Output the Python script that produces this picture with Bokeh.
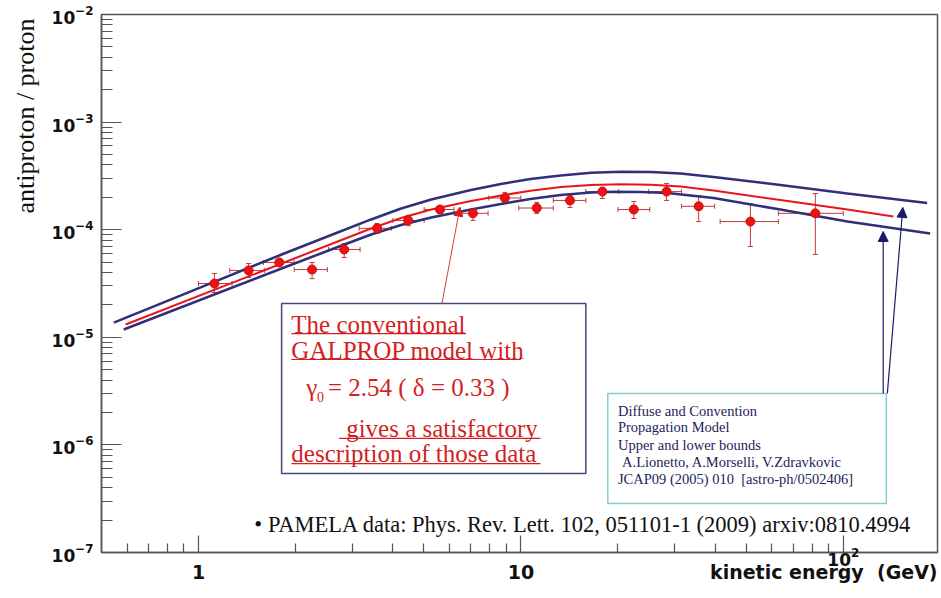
from bokeh.plotting import figure
from bokeh.models import (ColumnDataSource, FixedTicker, BoxAnnotation, Arrow, NormalHead,
                          Whisker, TeeHead, Range1d, LogAxis, Title)
from bokeh.core.properties import value
from bokeh.embed import file_html
from bokeh.resources import INLINE

# ---- PAMELA antiproton / proton flux ratio ----
energy = [1.12, 1.43, 1.78, 2.25, 2.83, 3.58, 4.47, 5.61, 7.10, 8.92,
          11.2, 14.2, 17.9, 22.4, 28.3, 35.6, 51.5, 81.9]
ratio = [3.16e-5, 4.18e-5, 4.96e-5, 4.26e-5, 6.55e-5, 1.03e-4, 1.22e-4, 1.54e-4, 1.42e-4, 1.97e-4,
         1.59e-4, 1.87e-4, 2.26e-4, 1.54e-4, 2.26e-4, 1.65e-4, 1.19e-4, 1.42e-4]
ratio_hi = [3.92e-5, 4.85e-5, 5.28e-5, 4.96e-5, 7.45e-5, 1.14e-4, 1.36e-4, 1.64e-4, 1.57e-4, 2.22e-4,
            1.79e-4, 2.08e-4, 2.47e-4, 1.83e-4, 2.69e-4, 2.08e-4, 1.75e-4, 2.17e-4]
ratio_lo = [2.61e-5, 3.60e-5, 4.65e-5, 3.51e-5, 5.52e-5, 9.23e-5, 1.09e-4, 1.42e-4, 1.22e-4, 1.79e-4,
            1.42e-4, 1.61e-4, 1.95e-4, 1.27e-4, 1.87e-4, 1.19e-4, 6.98e-5, 5.89e-5]
bin_lo = [1.00, 1.25, 1.59, 1.98, 2.53, 3.15, 4.01, 5.01, 6.51, 7.95,
          9.85, 12.6, 15.9, 20.0, 24.9, 31.5, 41.5, 62.9]
bin_hi = [1.27, 1.60, 1.98, 2.51, 3.17, 3.96, 5.01, 6.20, 7.91, 10.0,
          12.6, 15.9, 20.1, 25.1, 31.5, 39.9, 62.9, 100.0]

# ---- diffusion + convection propagation model: upper bound, GALPROP conventional, lower bound ----
upper_e = [0.546, 0.886, 1.81, 2.58, 3.43, 4.25, 5.27, 7.00, 8.67, 10.7, 13.3, 16.5, 20.4,
           25.3, 31.3, 39.6, 63.8, 103, 182]
upper_r = [1.37e-5, 2.47e-5, 5.88e-5, 8.93e-5, 1.245e-4, 1.574e-4, 1.91e-4, 2.339e-4, 2.661e-4,
           2.96e-4, 3.19e-4, 3.38e-4, 3.46e-4, 3.44e-4, 3.33e-4, 3.09e-4, 2.60e-4, 2.17e-4, 1.77e-4]
model_e = [0.594, 1.81, 2.58, 3.43, 4.25, 5.27, 7.00, 8.67, 10.7, 13.3, 16.5, 20.4,
           25.3, 31.3, 39.6, 63.8, 103, 143]
model_r = [1.315e-5, 4.85e-5, 7.36e-5, 1.026e-4, 1.284e-4, 1.54e-4, 1.848e-4, 2.079e-4, 2.298e-4,
           2.493e-4, 2.602e-4, 2.642e-4, 2.619e-4, 2.52e-4, 2.313e-4, 1.888e-4, 1.54e-4, 1.327e-4]
lower_e = [0.586, 1.81, 2.58, 3.43, 4.25, 5.27, 7.00, 8.67, 10.7, 13.3, 16.5, 19.4,
           23.5, 28.5, 39.6, 63.8, 103, 186]
lower_r = [1.181e-5, 4.358e-5, 6.55e-5, 9.02e-5, 1.106e-4, 1.298e-4, 1.54e-4, 1.733e-4, 1.929e-4,
           2.101e-4, 2.217e-4, 2.251e-4, 2.241e-4, 2.194e-4, 1.97e-4, 1.54e-4, 1.192e-4, 9.22e-5]

# ---- axis ticks ----
x_major = [1, 10, 100]
x_minor = [0.6, 0.7, 0.8, 0.9] + [k for k in range(2, 10)] + [10 * k for k in range(2, 10)]
y_major = [1e-7, 1e-6, 1e-5, 1e-4, 1e-3, 1e-2]
y_minor = [k * 10.0 ** e for e in range(-7, -2) for k in range(2, 10)]
x_title = "kinetic energy\u00a0 (GeV)"
x_title_at = 87.0          # centre of the x-axis title, in GeV
y_title = "antiproton / proton"

NAVY = "#2f3079"
RED = "#e8161c"
FRAME = "#555555"
INK = "#111111"
SANS = "DejaVu Sans"
SERIF = "Liberation Serif"

p = figure(width=941, height=598, x_axis_type="log", y_axis_type="log",
           x_range=Range1d(0.5, 196), y_range=Range1d(1e-7, 1e-2),
           output_backend="svg", toolbar_location=None,
           min_border_left=100, min_border_right=4, min_border_top=14, min_border_bottom=46)
p.background_fill_color = "white"
p.border_fill_color = "white"
p.grid.visible = False
p.outline_line_color = FRAME
p.outline_line_width = 1.5

# tick marks (inside the frame) and power-of-ten labels
p.xaxis.ticker = FixedTicker(ticks=x_major, minor_ticks=x_minor)
p.yaxis.ticker = FixedTicker(ticks=y_major, minor_ticks=y_minor)
for ax in (p.xaxis[0], p.yaxis[0]):
    ax.major_tick_out = 0
    ax.minor_tick_out = 0
    ax.axis_line_color = FRAME
    ax.axis_line_width = 1.5
    ax.major_tick_line_color = FRAME
    ax.minor_tick_line_color = FRAME
    ax.major_tick_line_width = 1.2
    ax.minor_tick_line_width = 1.2
    ax.major_label_text_font = SANS
    ax.major_label_text_font_style = "bold"
    ax.major_label_text_font_size = "17px"
    ax.major_label_text_color = INK
p.xaxis.major_tick_in = 17
p.xaxis.minor_tick_in = 9
p.yaxis.major_tick_in = 20
p.yaxis.minor_tick_in = 11
p.yaxis.major_label_standoff = 8
p.xaxis.major_label_overrides = {1: "", 10: ""}
p.xaxis.major_label_standoff = -6

# second row under the axis: 1, 10 and the axis title
row2 = LogAxis(ticker=FixedTicker(ticks=[1, 10, x_title_at], minor_ticks=[]),
               major_label_overrides={1: "1", 10: "10", x_title_at: x_title},
               axis_line_color=None, major_tick_line_color=None, minor_tick_line_color=None,
               major_tick_in=0, major_tick_out=0, minor_tick_in=0, minor_tick_out=0,
               major_label_standoff=-8, major_label_text_font=SANS,
               major_label_text_font_style="bold", major_label_text_font_size="19px",
               major_label_text_color=INK)
p.add_layout(row2, "below")

p.add_layout(Title(text=y_title, align="right", text_font=SERIF, text_font_style="normal",
                   text_font_size="26px", text_color=INK, standoff=17, offset=4), "left")

# model curves
p.line(upper_e, upper_r, line_color=NAVY, line_width=2.5)
p.line(lower_e, lower_r, line_color=NAVY, line_width=2.5)
p.line(model_e, model_r, line_color=RED, line_width=2)

# data with error bars
src = ColumnDataSource(dict(e=energy, r=ratio, rhi=ratio_hi, rlo=ratio_lo, elo=bin_lo, ehi=bin_hi))
ERR = "#c23a3a"
p.add_layout(Whisker(source=src, base="e", upper="rhi", lower="rlo", dimension="height",
                     line_color=ERR, line_width=1,
                     upper_head=TeeHead(size=5, line_color=ERR, line_width=1),
                     lower_head=TeeHead(size=5, line_color=ERR, line_width=1)))
p.add_layout(Whisker(source=src, base="r", upper="ehi", lower="elo", dimension="width",
                     line_color=ERR, line_width=1,
                     upper_head=TeeHead(size=5, line_color=ERR, line_width=1),
                     lower_head=TeeHead(size=5, line_color=ERR, line_width=1)))
p.scatter("e", "r", source=src, size=9, fill_color="#ee1111", line_color="#cc1111", line_width=1)


def words(xs, ys, texts, size, color):
    p.text(x=xs, y=ys, text=texts, text_font=value(SERIF), text_font_size=value(size),
           text_color=color, text_align="left", text_baseline="alphabetic")


# GALPROP annotation box
TXT_RED = "#d21f24"
p.add_layout(BoxAnnotation(left=1.81, right=15.9, top=2.06e-5, bottom=5.42e-7,
                           fill_alpha=0, line_color="#45458a", line_alpha=1, line_width=1.5))
words([1.94, 1.94, 2.87, 1.94], [1.31e-5, 7.53e-6, 1.42e-6, 8.31e-7],
      ["The conventional", "GALPROP model with", "gives a satisfactory", "description of those data"],
      "25px", TXT_RED)
words([2.16, 2.52], [3.38e-6, 3.38e-6], ["\u03b3", "= 2.54 ( \u03b4 = 0.33 )"], "25px", TXT_RED)
words([2.33], [2.78e-6], ["0"], "14px", TXT_RED)
p.segment(x0=[1.94, 1.94, 2.73, 1.94], y0=[1.08e-5, 6.22e-6, 1.15e-6, 6.71e-7],
          x1=[6.76, 10.0, 11.5, 11.5], y1=[1.08e-5, 6.22e-6, 1.15e-6, 6.71e-7],
          line_color=TXT_RED, line_width=1.2)
p.add_layout(Arrow(x_start=5.69, y_start=2.06e-5, x_end=6.47, y_end=1.62e-4,
                   line_color="#d04040", line_width=1,
                   end=NormalHead(size=9, fill_color="#e01818", line_color="#e01818")))

# propagation model reference box
TXT_NAVY = "#1d1d5a"
p.add_layout(BoxAnnotation(left=18.6, right=136, top=3.01e-6, bottom=2.85e-7,
                           fill_alpha=0, line_color="#7fcfd0", line_alpha=1, line_width=1.5))
words([20.0, 20.0, 20.0, 20.6, 20.0], [2.08e-6, 1.458e-6, 1.008e-6, 7.01e-7, 4.87e-7],
      ["Diffuse and Convention", "Propagation Model", "Upper and lower bounds",
       "A.Lionetto, A.Morselli, V.Zdravkovic", "JCAP09 (2005) 010 \u00a0[astro-ph/0502406]"],
      "14.5px", TXT_NAVY)
for xs, xe, ye in [(133, 133, 9.62e-5), (137, 153, 1.61e-4)]:
    p.add_layout(Arrow(x_start=xs, y_start=3.01e-6, x_end=xe, y_end=ye,
                       line_color="#1a1a6e", line_width=1.2,
                       end=NormalHead(size=10, fill_color="#1a1a6e", line_color="#1a1a6e")))

# data reference
words([1.49], [1.82e-7],
      ["\u2022 PAMELA data: Phys. Rev. Lett. 102, 051101-1 (2009) arxiv:0810.4994"], "22.5px", INK)

open("out.html", "w").write(file_html(p, INLINE))
